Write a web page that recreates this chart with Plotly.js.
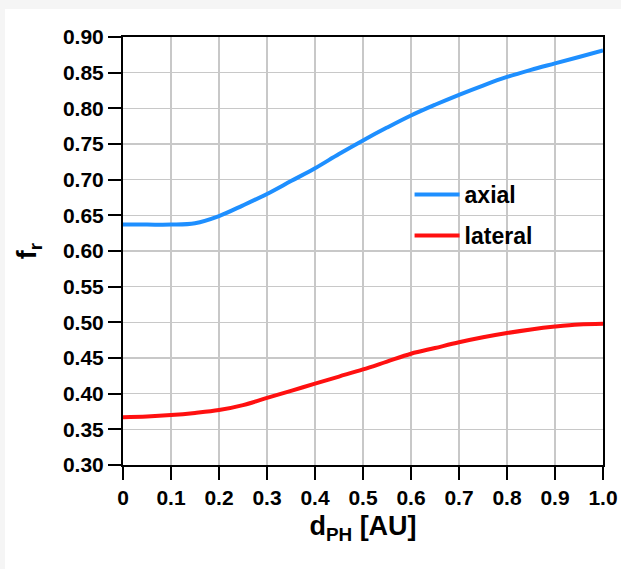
<!DOCTYPE html>
<html>
<head>
<meta charset="utf-8">
<script src="https://cdn.plot.ly/plotly-3.0.1.min.js"></script>
<style>
html,body{margin:0;padding:0;background:#f5f5f5;width:621px;height:569px;overflow:hidden;}
#chart{position:absolute;left:5px;top:9px;width:616px;height:560px;background:#fff;}
</style>
</head>
<body>
<div id="chart"></div>
<script>
const dPH = [0,0.05,0.1,0.15,0.2,0.25,0.3,0.35,0.4,0.45,0.5,0.55,0.6,0.65,0.7,0.75,0.8,0.85,0.9,0.95,1.0];
const axial = [0.637,0.637,0.637,0.639,0.649,0.664,0.680,0.698,0.716,0.736,0.755,0.773,0.790,0.805,0.819,0.832,0.844,0.854,0.863,0.872,0.881];
const lateral = [0.367,0.368,0.370,0.373,0.377,0.384,0.394,0.404,0.414,0.424,0.434,0.445,0.456,0.464,0.472,0.479,0.485,0.490,0.494,0.497,0.498];
const xTickVals = [0,0.1,0.2,0.3,0.4,0.5,0.6,0.7,0.8,0.9,1.0];
const xTickText = ['0','0.1','0.2','0.3','0.4','0.5','0.6','0.7','0.8','0.9','1.0'];
const yTickVals = [0.30,0.35,0.40,0.45,0.50,0.55,0.60,0.65,0.70,0.75,0.80,0.85,0.90];
const yTickText = ['0.30','0.35','0.40','0.45','0.50','0.55','0.60','0.65','0.70','0.75','0.80','0.85','0.90'];

const FONT = 'Liberation Sans, Arial, Helvetica, sans-serif';

const traces = [
  {x: dPH, y: axial, name: 'axial', mode: 'lines', legendgroup: 'a',
   line: {color: '#1e8fff', width: 4, shape: 'spline'}},
  {x: dPH, y: lateral, name: 'lateral', mode: 'lines', legendgroup: 'b',
   line: {color: '#ff1010', width: 4, shape: 'spline'}}
];

const axisCommon = {
  showline: true, linecolor: '#000', linewidth: 2, mirror: true,
  ticks: 'outside', ticklen: 13, tickwidth: 2, tickcolor: '#000',
  showgrid: true, gridcolor: '#c8c8c8', gridwidth: 1.5,
  zeroline: false,
  tickfont: {family: FONT, size: 21, color: '#000', weight: 'bold'}
};

const layout = {
  width: 616, height: 560,
  paper_bgcolor: '#ffffff', plot_bgcolor: '#ffffff',
  margin: {l: 118, r: 18, t: 28, b: 104},
  showlegend: true,
  legend: {x: 0.597, y: 0.584, xanchor: 'left', yanchor: 'middle',
    bgcolor: 'rgba(255,255,255,0)', borderwidth: 0,
    tracegroupgap: 8, itemwidth: 45,
    font: {family: FONT, size: 23, color: '#000', weight: 'bold'}},
  xaxis: Object.assign({}, axisCommon, {
    range: [0, 1.0], tickvals: xTickVals, ticktext: xTickText,
    title: {text: 'd<sub>PH</sub> [AU]', standoff: 8,
      font: {family: FONT, size: 27, color: '#000', weight: 'bold'}}
  }),
  yaxis: Object.assign({}, axisCommon, {
    range: [0.30, 0.90], tickvals: yTickVals, ticktext: yTickText,
    title: {text: 'f<sub>r</sub>', standoff: 18,
      font: {family: FONT, size: 27, color: '#000', weight: 'bold'}}
  })
};

Plotly.newPlot('chart', traces, layout, {displayModeBar: false, staticPlot: true});
</script>
</body>
</html>
